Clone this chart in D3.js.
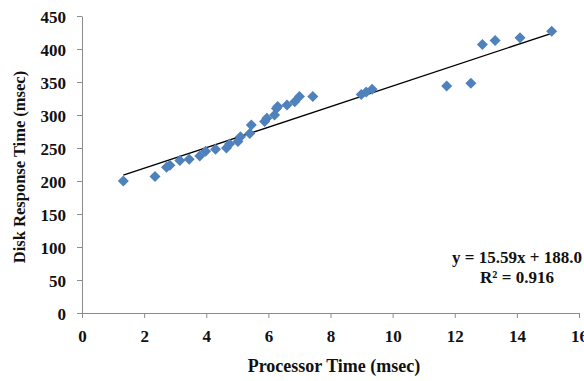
<!DOCTYPE html>
<html>
<head>
<meta charset="utf-8">
<script src="https://cdn.jsdelivr.net/npm/d3@7"></script>
<style>
  body { margin: 0; background: #fff; }
  svg { display: block; font-family: "Liberation Serif", "Times New Roman", serif; font-weight: bold; }
</style>
</head>
<body>
<div id="chart"></div>
<script>
// processor time (msec) vs disk response time (msec)
const procTime = [1.33, 2.35, 2.72, 2.83, 3.15, 3.45, 3.79, 3.98, 4.3, 4.65, 4.75, 5.02, 5.1, 5.4, 5.45,
  5.88, 5.95, 6.2, 6.26, 6.3, 6.6, 6.85, 7.0, 7.43, 8.99, 9.15, 9.34, 11.74, 12.52, 12.89, 13.3, 14.1, 15.12];
const diskTime = [200, 207, 221, 224, 231, 233, 238, 245, 248, 250, 256, 260, 267, 272, 285,
  290, 295, 300, 310, 313, 315, 320, 328, 328, 331, 335, 339, 344, 348, 407, 413, 417, 427];
const xTicks = [0, 2, 4, 6, 8, 10, 12, 14, 16];
const yTicks = [0, 50, 100, 150, 200, 250, 300, 350, 400, 450];
const slope = 15.59, intercept = 188.0, r2 = 0.916;

const width = 584, height = 381;
const svg = d3.select("#chart").append("svg").attr("width", width).attr("height", height);

const x = d3.scaleLinear().domain([0, 16]).range([82, 579]);
const y = d3.scaleLinear().domain([0, 450]).range([313, 16]);

const axisColor = "#8c8c8c";

// axes
const xAxis = svg.append("g").attr("transform", `translate(0,${y(0)})`)
  .call(d3.axisBottom(x).tickValues(xTicks).tickSize(5).tickSizeOuter(0).tickPadding(12));
const yAxis = svg.append("g").attr("transform", `translate(${x(0)},0)`)
  .call(d3.axisLeft(y).tickValues(yTicks).tickSize(5).tickSizeOuter(0).tickPadding(11));
[xAxis, yAxis].forEach(a => {
  a.select(".domain").attr("stroke", axisColor);
  a.selectAll(".tick line").attr("stroke", axisColor);
  a.selectAll(".tick text").attr("fill", "#111").style("font-size", "17px")
    .style("font-family", "Liberation Serif, serif").style("font-weight", "bold");
});
yAxis.selectAll(".tick text").attr("dy", "0.36em");

// trend line
const xMin = d3.min(procTime), xMax = d3.max(procTime);
svg.append("line")
  .attr("x1", x(xMin)).attr("y1", y(slope * xMin + intercept))
  .attr("x2", x(xMax)).attr("y2", y(slope * xMax + intercept))
  .attr("stroke", "#000").attr("stroke-width", 1.3);

// points
const r = 5.5;
svg.append("g").selectAll("path").data(procTime.map((d, i) => [d, diskTime[i]])).join("path")
  .attr("d", `M0,${-r}L${r},0L0,${r}L${-r},0Z`)
  .attr("transform", d => `translate(${x(d[0])},${y(d[1])})`)
  .attr("fill", "#4f81bd");

// equation
svg.append("text").attr("x", 517).attr("y", 263).attr("text-anchor", "middle")
  .style("font-size", "17px").attr("fill", "#111")
  .text(`y = ${slope.toFixed(2)}x + ${intercept.toFixed(1)}`);
svg.append("text").attr("x", 517).attr("y", 283).attr("text-anchor", "middle")
  .style("font-size", "17px").attr("fill", "#111")
  .text(`R² = ${r2}`);

// axis titles
svg.append("text").attr("x", 334).attr("y", 372).attr("text-anchor", "middle")
  .style("font-size", "18px").attr("fill", "#111").text("Processor Time (msec)");
svg.append("text").attr("transform", "translate(25,167) rotate(-90)").attr("text-anchor", "middle")
  .style("font-size", "16.5px").attr("fill", "#111").text("Disk Response Time (msec)");
</script>
</body>
</html>
